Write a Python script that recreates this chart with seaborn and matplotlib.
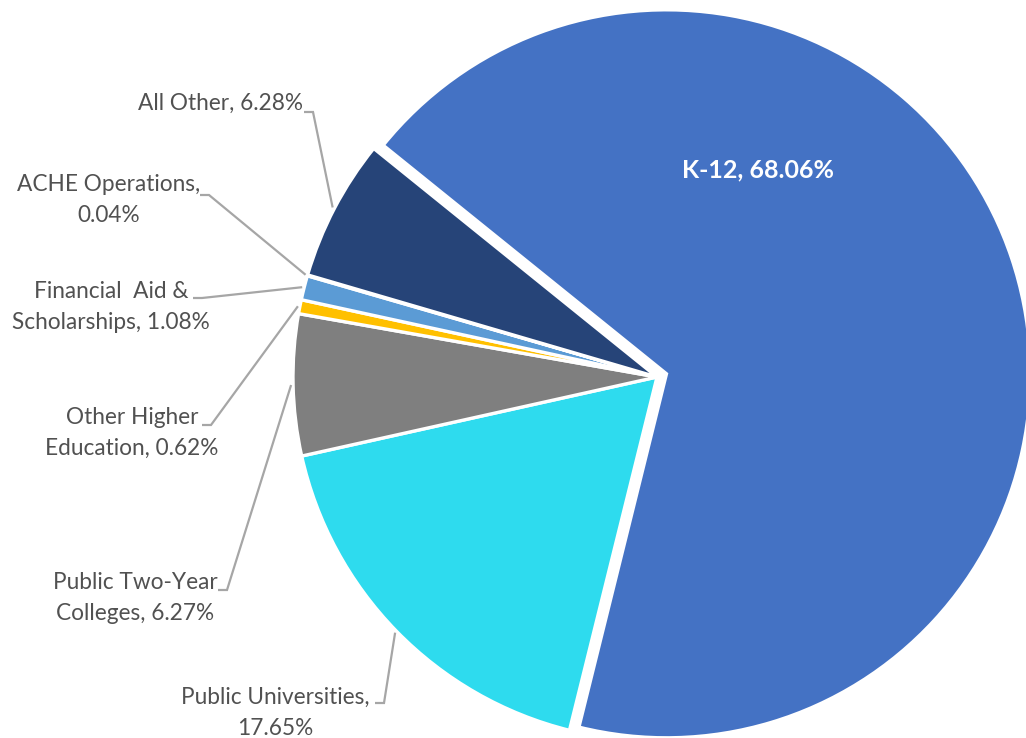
import numpy as np
import matplotlib
matplotlib.use("Agg")
import matplotlib.pyplot as plt
import seaborn as sns

# Budget shares by category (percent), in clockwise drawing order
categories = ["K-12", "Public Universities", "Public Two-Year\nColleges",
              "Other Higher\nEducation", "Financial  Aid &\nScholarships",
              "ACHE Operations", "All Other"]
shares = [68.06, 17.65, 6.27, 0.62, 1.08, 0.04, 6.28]
# separator placed between the category name and its value
separators = [" ", "\n", " ", " ", " ", "\n", " "]
slice_colors = ["#4472C4", "#2EDBEE", "#7F7F7F", "#FFC000",
                "#5B9BD5", "#A5A5A5", "#264478"]

sns.set_theme(style="white")
plt.rcParams["font.family"] = ["Lato", "DejaVu Sans"]

W, H = 1026, 738
fig = plt.figure(figsize=(W / 100, H / 100), dpi=100)
ax = fig.add_axes([0, 0, 1, 1])

def Y(y):
    # pixel row (top-down) to axis y (bottom-up)
    return H - y

center = (657, Y(377))
radius = 364
explode = [10, 0, 0, 0, 0, 0, 0]

wedges, _ = ax.pie(shares, colors=sns.color_palette(slice_colors),
                   startangle=141.1, counterclock=False, explode=explode,
                   radius=radius, center=center, frame=False,
                   wedgeprops=dict(edgecolor="white", linewidth=2.4,
                                   joinstyle="miter"))

ax.set_xlim(0, W)
ax.set_ylim(0, H)
ax.set_aspect("equal")
ax.axis("off")

labels = [f"{c},{s}{v:.2f}%" for c, s, v in zip(categories, separators, shares)]

# label centre (px) and the start of the leader's short horizontal tick
label_pos = {
    1: (275, 713),
    2: (135, 598),
    3: (132, 433),
    4: (111, 307),
    5: (109, 200),
    6: (220, 103),
}
leader_start = {
    1: (375, 703),
    2: (218, 590),
    3: (202, 425),
    4: (193, 298),
    5: (200, 195),
    6: (304, 112),
}

text_color = "#515151"
line_color = "#A6A6A6"
fs = 16.3

for i, w in enumerate(wedges):
    if i == 0:
        continue
    tx, ty = label_pos[i]
    ax.text(tx, Y(ty), labels[i], ha="center", va="center",
            multialignment="center", fontsize=fs, color=text_color,
            linespacing=1.58)
    # leader line: short tick, then straight to the slice's rim at mid-angle
    mid = np.deg2rad((w.theta1 + w.theta2) / 2)
    cx, cy = w.center
    px = cx + (w.r + 2) * np.cos(mid)
    py = cy + (w.r + 2) * np.sin(mid)
    sx, sy = leader_start[i]
    ax.plot([sx, sx + 9, px], [Y(sy), Y(sy), py], color=line_color,
            lw=1.6, solid_joinstyle="miter", solid_capstyle="butt")

ax.text(758, Y(170), labels[0], ha="center", va="center", fontsize=18,
        fontweight="bold", color="white")

fig.savefig("out.png", dpi=100, facecolor="white")
